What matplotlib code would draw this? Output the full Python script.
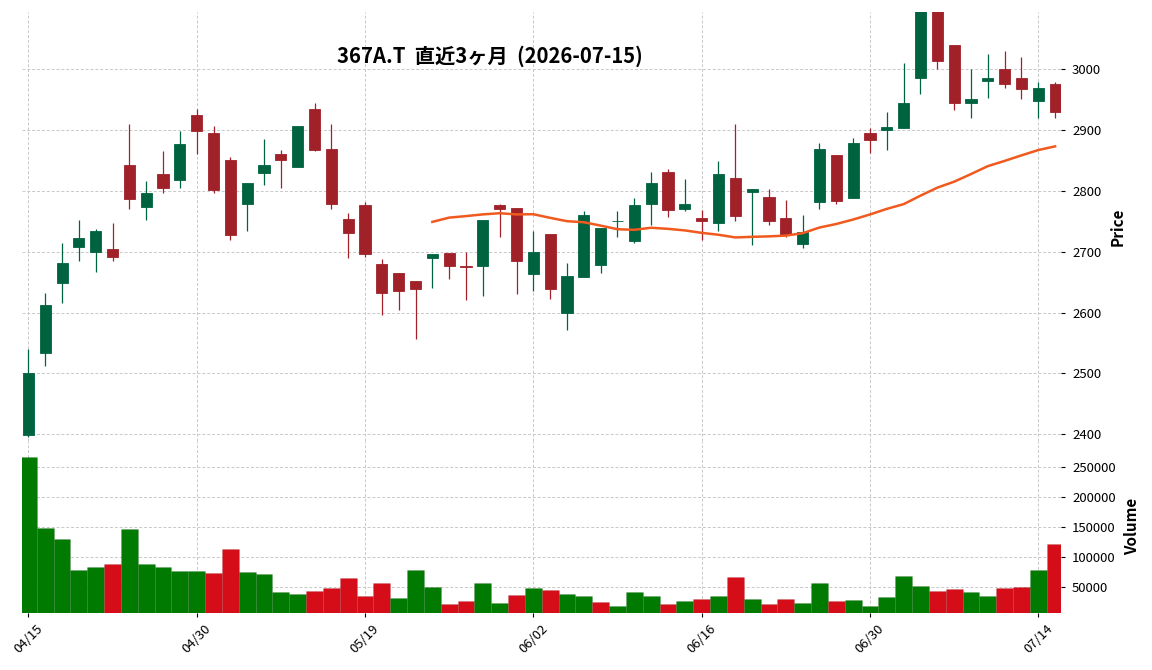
import matplotlib
matplotlib.use("Agg")
import matplotlib.pyplot as plt
import numpy as np
import pandas as pd

plt.rcParams['font.family'] = ['Noto Sans CJK JP', 'DejaVu Sans']

TITLE = "367A.T  直近3ヶ月  (2026-07-15)"

dates = [
    "04/15", "04/16", "04/17", "04/20", "04/21", "04/22", "04/23", "04/24", "04/27", "04/28",
    "04/30", "05/01", "05/07", "05/08", "05/11", "05/12", "05/13", "05/14", "05/15", "05/18",
    "05/19", "05/20", "05/21", "05/22", "05/25", "05/26", "05/27", "05/28", "05/29", "06/01",
    "06/02", "06/03", "06/04", "06/05", "06/08", "06/09", "06/10", "06/11", "06/12", "06/15",
    "06/16", "06/17", "06/18", "06/19", "06/22", "06/23", "06/24", "06/25", "06/26", "06/29",
    "06/30", "07/01", "07/02", "07/03", "07/06", "07/07", "07/08", "07/09", "07/10", "07/13",
    "07/14", "07/15",
]

opens = [2399, 2534, 2649, 2708, 2699, 2705, 2843, 2773, 2828, 2818,
         2925, 2895, 2851, 2779, 2830, 2861, 2840, 2935, 2869, 2754,
         2777, 2680, 2665, 2652, 2689, 2698, 2676, 2676, 2777, 2772,
         2664, 2729, 2600, 2659, 2678, 2750, 2717, 2779, 2831, 2771,
         2756, 2748, 2821, 2798, 2790, 2756, 2712, 2781, 2859, 2789,
         2895, 2900, 2904, 2986, 3100, 3040, 2945, 2980, 3000, 2986,
         2948, 2976]
highs = [2541, 2633, 2714, 2752, 2737, 2748, 2910, 2817, 2865, 2898,
         2934, 2906, 2855, 2813, 2885, 2867, 2907, 2944, 2910, 2763,
         2781, 2688, 2665, 2652, 2696, 2698, 2699, 2752, 2778, 2772,
         2734, 2729, 2682, 2767, 2739, 2767, 2788, 2831, 2836, 2819,
         2768, 2849, 2910, 2803, 2803, 2785, 2760, 2878, 2859, 2887,
         2904, 2929, 3010, 3130, 3110, 3040, 3000, 3025, 3030, 3020,
         2979, 2979]
lows = [2396, 2513, 2615, 2684, 2666, 2684, 2770, 2752, 2796, 2804,
        2860, 2796, 2720, 2734, 2809, 2805, 2840, 2866, 2770, 2689,
        2691, 2596, 2605, 2556, 2640, 2655, 2620, 2628, 2725, 2630,
        2636, 2622, 2571, 2659, 2665, 2725, 2714, 2744, 2757, 2767,
        2720, 2734, 2750, 2711, 2744, 2725, 2706, 2770, 2778, 2789,
        2862, 2867, 2904, 2960, 3000, 2933, 2919, 2952, 2969, 2951,
        2919, 2919]
closes = [2500, 2613, 2682, 2723, 2734, 2692, 2787, 2797, 2804, 2877,
          2899, 2802, 2728, 2813, 2843, 2850, 2907, 2867, 2779, 2731,
          2696, 2633, 2636, 2638, 2696, 2676, 2675, 2752, 2771, 2685,
          2700, 2638, 2660, 2760, 2739, 2751, 2777, 2813, 2768, 2779,
          2750, 2828, 2758, 2803, 2750, 2727, 2732, 2869, 2784, 2879,
          2884, 2905, 2945, 3120, 3014, 2945, 2951, 2986, 2975, 2967,
          2969, 2929]
volumes = [267200, 148900, 130600, 78900, 83900, 88900, 147200, 88900, 83900, 77200,
           77200, 73900, 113900, 75600, 72200, 42200, 38900, 43900, 48900, 65600,
           35600, 57200, 32200, 78900, 50600, 22200, 27200, 57200, 23900, 37200,
           48900, 45600, 38900, 35600, 25600, 18900, 42200, 35600, 22200, 27200,
           30600, 35600, 67200, 30600, 22200, 30600, 23900, 57200, 27200, 28900,
           18900, 33900, 68900, 52200, 43900, 47200, 42200, 35600, 48900, 50600,
           78900, 122200]

MAV = 25

UP, DOWN = "#006340", "#A02128"
VUP, VDOWN = "#007a00", "#d50d18"
GRID = "#c8c8c8"

o = np.array(opens, float)
h = np.array(highs, float)
l = np.array(lows, float)
c = np.array(closes, float)
v = np.array(volumes, float)
x = np.arange(len(dates))

candle_col = np.where(c >= o, UP, DOWN)
prev = np.concatenate([[c[0]], c[:-1]])
vol_col = np.where(c >= prev, VUP, VDOWN)
ma = pd.Series(c).rolling(MAV).mean()

W, H = 1152, 670
fig = plt.figure(figsize=(W / 100, H / 100), dpi=100)
ax = fig.add_axes([22 / W, 1 - 441 / H, 1039 / W, 429 / H])
axv = fig.add_axes([22 / W, 1 - 612.7 / H, 1039 / W, 171.7 / H], sharex=ax)

for a in (ax, axv):
    for s in a.spines.values():
        s.set_visible(False)
    a.grid(True, color=GRID, linestyle=(0, (3, 2)), linewidth=0.7)
    a.set_axisbelow(True)
    a.yaxis.tick_right()
    a.yaxis.set_label_position("right")
    a.tick_params(axis="y", labelsize=9.5, length=3, width=0.8, pad=5)

# candles
ax.vlines(x, l, h, colors=candle_col, linewidth=0.9, zorder=2)
ax.bar(x, np.abs(c - o), bottom=np.minimum(o, c), width=0.66,
       color=candle_col, edgecolor=candle_col, linewidth=0.6, zorder=3)
ax.plot(x, ma, color="#f05a1e", linewidth=1.8, zorder=4)

ax.set_ylim(2389, 3094)
ax.set_xlim(-0.38, 61.35)
ax.set_ylabel("Price", fontsize=11, fontweight="bold", labelpad=6)
ax.tick_params(axis="x", which="both", bottom=False, labelbottom=False)

# volume
axv.bar(x, v, width=1.0, color=vol_col, edgecolor=(0, 0, 0, 0.08), linewidth=0.6)
axv.set_ylim(7700, 293800)
axv.set_yticks([50000, 100000, 150000, 200000, 250000])
axv.yaxis.set_major_formatter(matplotlib.ticker.FuncFormatter(lambda val, pos: f"{int(val)}"))
axv.set_ylabel("Volume", fontsize=11, fontweight="bold", labelpad=6)

ticks = list(range(0, len(dates), 10))
axv.set_xticks(ticks)
axv.set_xticklabels([dates[i] for i in ticks], rotation=45, ha="center", fontsize=9.5)
axv.tick_params(axis="x", length=3, width=0.8, pad=4)

fig.text(490 / W, 1 - 56 / H, TITLE, ha="center", va="center",
         fontsize=14.6, fontweight="bold")

fig.savefig("out.png", dpi=100)
